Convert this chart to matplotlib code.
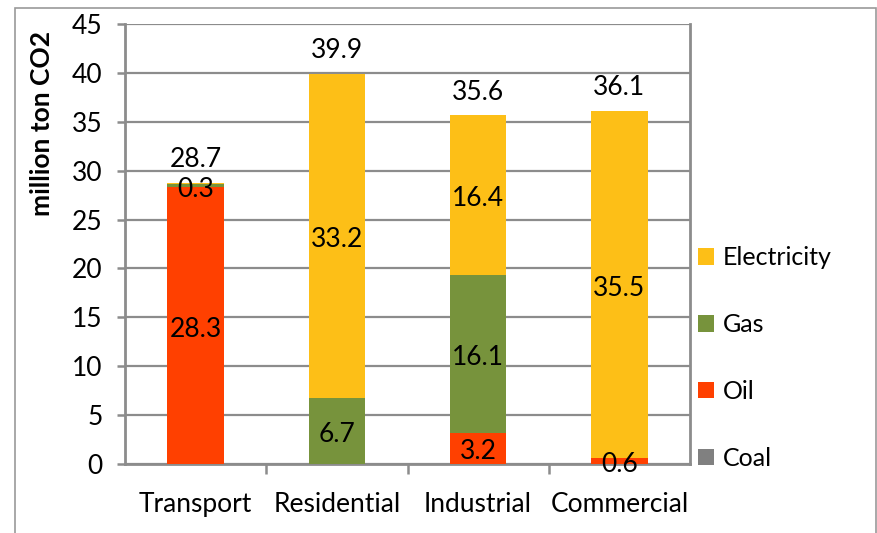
import matplotlib
matplotlib.use("Agg")
import matplotlib.pyplot as plt
from matplotlib.patches import Patch, Rectangle
import numpy as np

plt.rcParams["font.family"] = ["Lato", "DejaVu Sans"]

# Emissions by sector and fuel, million ton CO2
SECTORS = ["Transport", "Residential", "Industrial", "Commercial"]
FUELS = ["Coal", "Oil", "Gas", "Electricity"]
COAL = [0.0, 0.0, 0.0, 0.0]
OIL = [28.3, 0.0, 3.2, 0.6]
GAS = [0.3, 6.7, 16.1, 0.0]
ELECTRICITY = [0.1, 33.2, 16.4, 35.5]
TOTALS = [28.7, 39.9, 35.6, 36.1]

COLORS = {
    "Coal": "#808080",
    "Oil": "#ff4000",
    "Gas": "#77933c",
    "Electricity": "#fdbf17",
}
GRID = "#8c8c8c"


def main():
    fig = plt.figure(figsize=(8.77, 5.33), dpi=100)
    ax = fig.add_axes([125 / 877, 69 / 533, 565 / 877, 440 / 533])

    # outer chart frame
    fig.patches.append(Rectangle((15 / 877, -0.1), 861 / 877, 1.1 - 8 / 533,
                                 transform=fig.transFigure, fill=False,
                                 edgecolor="#9a9a9a", linewidth=1.2))

    x = np.arange(len(SECTORS))
    width = 0.4
    series = {"Coal": COAL, "Oil": OIL, "Gas": GAS, "Electricity": ELECTRICITY}

    bottom = np.zeros(len(SECTORS))
    for fuel in FUELS:
        vals = np.array(series[fuel])
        ax.bar(x, vals, width, bottom=bottom, color=COLORS[fuel], zorder=3)
        for xi, b, v in zip(x, bottom, vals):
            if v >= 0.3:
                ax.text(xi, b + v / 2 - 0.35, f"{v:.1f}", ha="center",
                        va="center", fontsize=19, zorder=4)
        bottom += vals

    for xi, t in zip(x, TOTALS):
        ax.text(xi, t + 2.4, f"{t:.1f}", ha="center", va="center",
                fontsize=19, zorder=4)

    ax.set_xlim(-0.5, 3.5)
    ax.set_ylim(0, 45)
    ax.set_yticks(np.arange(0, 46, 5))
    ax.set_yticklabels([str(v) for v in range(0, 46, 5)])
    ax.yaxis.grid(True, color=GRID, linewidth=1.6, zorder=0)
    ax.set_axisbelow(True)

    ax.set_xticks(x)
    ax.set_xticklabels(SECTORS)
    ax.set_xticks([0.5, 1.5, 2.5], minor=True)
    ax.tick_params(axis="x", which="major", length=0, pad=20, labelsize=19)
    ax.tick_params(axis="x", which="minor", length=7, width=1.8,
                   color=GRID, direction="out")
    ax.tick_params(axis="y", length=6, width=1.8, color=GRID,
                   direction="out", pad=10, labelsize=19)

    for side in ["left", "bottom", "right"]:
        ax.spines[side].set_color(GRID)
        ax.spines[side].set_linewidth(2.0)
    ax.spines["top"].set_visible(False)

    ax.set_ylabel("million ton CO2", fontsize=19, fontweight="bold")
    ax.yaxis.set_label_coords(-0.125, 0.775)

    handles = [Patch(facecolor=COLORS[f], edgecolor="none", label=f)
               for f in reversed(FUELS)]
    fig.legend(handles=handles, loc="center left",
               bbox_to_anchor=(698 / 877, (533 - 358) / 533),
               frameon=False, fontsize=18, handlelength=0.65,
               handleheight=0.65, handletextpad=0.35, labelspacing=1.75,
               borderpad=0, borderaxespad=0)

    fig.savefig("out.png", dpi=100)
    plt.close(fig)


if __name__ == "__main__":
    main()
